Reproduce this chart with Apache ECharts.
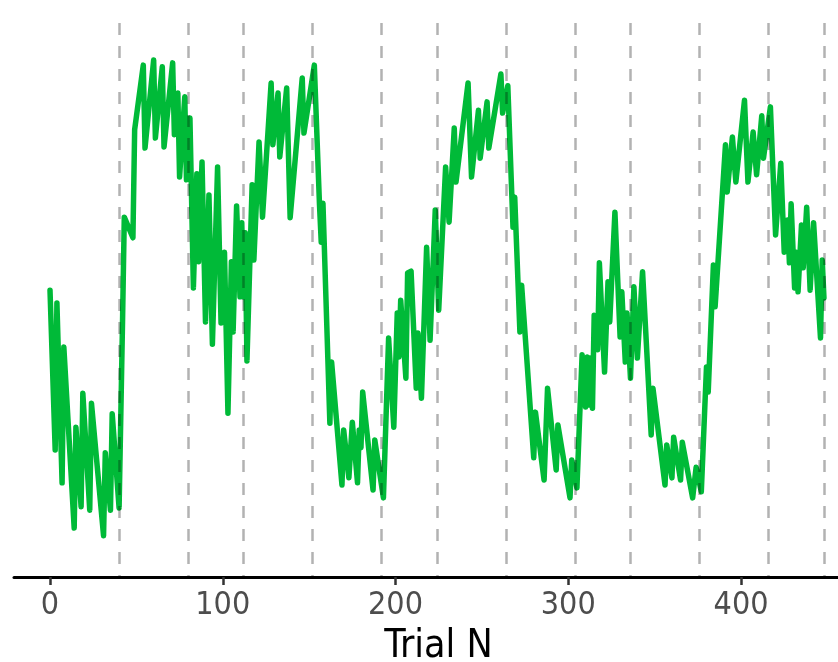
<!DOCTYPE html>
<html>
<head>
<meta charset="utf-8">
<script src="https://cdn.jsdelivr.net/npm/echarts@6/dist/echarts.min.js"></script>
<style>
  html, body { margin: 0; padding: 0; background: #ffffff; }
  #chart { width: 838px; height: 662px; }
</style>
</head>
<body>
<div id="chart"></div>
<script>
var trials = [
  0, 3, 4, 7, 8, 14, 15, 18, 19, 23, 24, 31, 32, 35, 36, 40,
  42, 43, 48, 49, 54, 55, 60, 61, 65, 66, 71, 72, 74, 75, 78, 79,
  81, 83, 85, 86, 88, 90, 92, 94, 97, 99, 101, 103, 105, 106, 108, 110,
  111, 112, 113, 114, 117, 118, 121, 123, 128, 129, 132, 133, 137, 139, 146, 147,
  153, 156, 157, 158, 162, 163, 169, 170, 173, 175, 178, 179, 180, 181, 187, 188,
  193, 196, 199, 201, 202, 203, 206, 207, 209, 212, 213, 215, 218, 220, 223, 225,
  229, 231, 234, 235, 242, 244, 248, 249, 253, 254, 261, 262, 265, 268, 269, 272,
  273, 280, 281, 286, 288, 293, 294, 301, 302, 305, 308, 310, 311, 312, 313, 314,
  315, 317, 318, 321, 323, 324, 327, 330, 331, 333, 334, 336, 338, 340, 343, 348,
  349, 356, 357, 360, 361, 365, 366, 372, 374, 377, 380, 381, 384, 385, 391, 392,
  395, 397, 402, 404, 407, 409, 412, 413, 417, 420, 423, 425, 427, 428, 429, 431,
  432, 433, 435, 436, 438, 440, 442, 446, 447, 448
];
// Values at those trials (y axis not shown in the reference)
var values = [
  51.5, 22.8, 49.2, 16.9, 41.3, 8.8, 26.9, 12.6, 33.0, 12.0, 31.2, 7.4, 22.3, 12.0, 29.3, 12.4,
  46.1, 64.6, 60.9, 80.3, 91.9, 77.0, 92.8, 78.8, 91.6, 77.2, 92.3, 79.4, 86.9, 71.8, 86.2, 71.3,
  82.4, 51.9, 72.4, 56.6, 74.5, 45.8, 68.6, 41.8, 73.6, 45.6, 58.3, 29.4, 56.6, 44.0, 66.6, 50.3,
  63.6, 50.3, 61.8, 38.8, 70.4, 56.9, 78.1, 64.6, 88.7, 77.6, 86.9, 75.4, 87.8, 64.5, 89.6, 79.7,
  91.9, 66.8, 60.1, 67.1, 27.6, 38.6, 16.5, 26.4, 17.8, 27.8, 16.9, 26.4, 23.2, 33.2, 15.6, 24.6,
  14.2, 42.9, 26.9, 47.4, 39.5, 49.7, 35.7, 54.6, 54.9, 33.9, 43.8, 32.1, 59.2, 42.5, 65.9, 47.9,
  73.6, 63.7, 80.6, 70.9, 88.7, 71.8, 83.8, 75.2, 85.3, 77.0, 90.3, 83.3, 88.2, 62.8, 68.2, 44.0,
  52.4, 21.4, 29.6, 17.4, 33.9, 19.2, 27.3, 14.2, 21.0, 16.0, 39.9, 30.5, 39.5, 30.9, 39.3, 30.3,
  47.0, 40.8, 56.4, 36.8, 53.0, 45.8, 65.5, 43.1, 51.2, 38.6, 47.4, 35.7, 52.1, 39.3, 54.8, 25.5,
  33.9, 16.5, 23.7, 17.8, 25.1, 17.4, 24.2, 14.2, 19.7, 15.3, 37.7, 33.2, 56.0, 48.5, 77.6, 69.1,
  79.0, 70.9, 85.6, 70.9, 79.9, 72.2, 82.8, 75.2, 84.4, 61.4, 74.3, 58.3, 64.1, 56.4, 67.0, 51.9,
  58.3, 51.2, 63.2, 55.5, 66.4, 51.5, 63.6, 42.9, 56.9, 50.1
];
// Block boundaries (dashed vertical lines)
var blockBoundaries = [40, 80, 112, 152, 192, 224, 264, 304, 336, 376, 416, 448];
// X tick labels
var tickValues = [0, 100, 200, 300, 400];
var xName = 'Trial N';

var Y_TOP = 99.46;
var narrow = "'Liberation Sans Narrow', 'Arial Narrow', 'DejaVu Sans Condensed', sans-serif";

var lineData = trials.map(function (t, i) { return [t, values[i]]; });

var chart = echarts.init(document.getElementById('chart'), null, { renderer: 'canvas' });
chart.setOption({
  animation: false,
  backgroundColor: '#ffffff',
  grid: { left: 14, right: -25, top: 23, bottom: 85, containLabel: false, outerBoundsMode: 'none' },
  xAxis: {
    type: 'value',
    min: -20.84,
    max: 470.6,
    name: xName,
    nameLocation: 'middle',
    nameGap: 50,
    nameMoveOverlap: false,
    nameTextStyle: { color: '#000000', fontSize: 39, fontFamily: narrow },
    axisLine: { show: true, onZero: false, lineStyle: { color: '#000000', width: 3 } },
    axisTick: { show: true, customValues: tickValues, length: 8, lineStyle: { color: '#333333', width: 2.5 } },
    axisLabel: { show: true, customValues: tickValues, color: '#4d4d4d', fontSize: 32, fontFamily: narrow, margin: 13 },
    splitLine: { show: false }
  },
  yAxis: { type: 'value', min: 0, max: Y_TOP, show: false, splitLine: { show: false } },
  series: [{
    type: 'line',
    data: lineData,
    symbol: 'none',
    showSymbol: false,
    lineStyle: { color: '#00BA38', width: 5.5, join: 'round', cap: 'round' },
    markLine: {
      silent: true,
      symbol: ['none', 'none'],
      label: { show: false },
      lineStyle: { color: 'rgba(0,0,0,0.3)', width: 2.5, type: [12, 11] },
      emphasis: { disabled: true },
      data: blockBoundaries.map(function (b) {
        return [{ coord: [b, Y_TOP] }, { coord: [b, 0] }];
      })
    }
  }]
});
</script>
</body>
</html>
